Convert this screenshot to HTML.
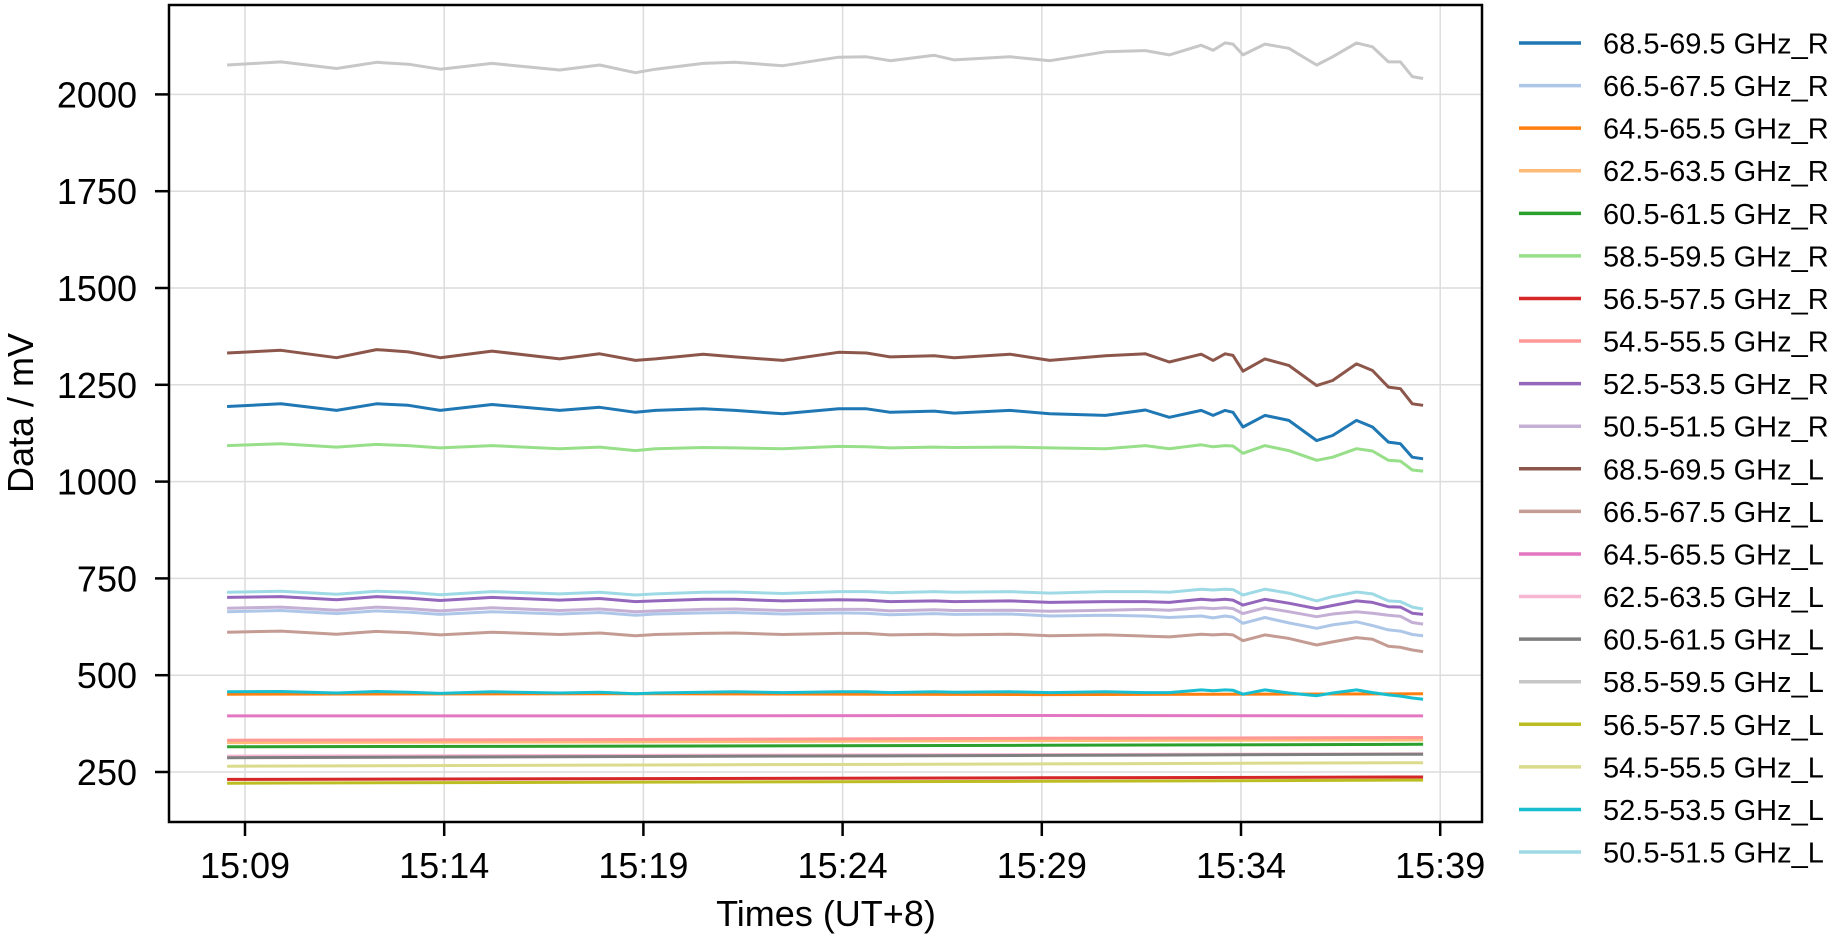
<!DOCTYPE html>
<html><head><meta charset="utf-8"><style>
html,body{margin:0;padding:0;background:#fff;}
svg{display:block;font-family:"Liberation Sans",Arial,sans-serif;}
</style></head><body>
<svg id="chart" width="1847" height="941" viewBox="0 0 1847 941" xmlns="http://www.w3.org/2000/svg">
<g id="grid"></g>
<g id="series"></g>
<rect x="169" y="5" width="1313" height="817" fill="none" stroke="#000" stroke-width="2.5"/>
<g id="axes"></g>
<text x="826" y="926" font-size="36" text-anchor="middle">Times (UT+8)</text>
<text x="0" y="0" font-size="36" text-anchor="middle" transform="translate(33,413) rotate(-90)">Data / mV</text>
<g id="legend"></g>
</svg>
<script>
// minutes after 15:09
const T = [-0.45,0.9,2.3,3.3,4.1,4.9,6.2,7.9,8.9,9.8,10.3,11.5,12.3,13.5,14.9,15.6,16.2,17.3,17.8,19.2,20.2,21.6,22.6,23.2,24.0,24.3,24.6,24.8,25.05,25.6,26.2,26.9,27.3,27.9,28.3,28.7,29.0,29.3,29.57];
const TF = [-0.45,10,20,29.57];
const xTickLabels = ["15:09","15:14","15:19","15:24","15:29","15:34","15:39"];
const xTickValues = [0,5,10,15,20,25,30];
const yTickValues = [250,500,750,1000,1250,1500,1750,2000];

const s685R = [1194,1201,1184,1201,1197,1184,1199,1184,1192,1179,1184,1188,1184,1175,1188,1188,1179,1182,1177,1184,1175,1171,1185,1166,1184,1171,1184,1179,1141,1171,1158,1106,1119,1158,1141,1102,1098,1063,1059];
const s665R = [664,667,659,666,663,657,664,658,662,655,658,661,662,658,661,660,656,659,657,658,653,655,653,649,653,648,653,650,634,649,635,621,630,638,628,617,614,605,602];
const s645R = [451,452,450,452,451];
const s625R = [326,328,331,333];
const s605R = [315,317,319,321.5];
const s585R = [1093,1098,1089,1096,1093,1087,1093,1085,1089,1080,1085,1088,1087,1085,1091,1090,1087,1089,1088,1089,1087,1085,1093,1085,1095,1090,1093,1092,1073,1093,1080,1055,1063,1085,1079,1055,1053,1030,1027];
const s565R = [231,233,235,237];
const s545R = [332,334,337,339];
const s525R = [701,703,695,703,699,693,701,694,698,690,692,696,696,692,695,694,690,692,690,692,688,690,690,688,696,694,696,694,681,696,686,672,680,692,688,677,676,660,657];
const s505R = [673,676,668,676,672,666,674,667,671,664,666,670,671,667,670,670,666,669,667,668,665,668,670,668,674,672,674,672,659,674,664,651,658,664,660,655,652,636,632];
const s685L = [1332,1339,1320,1341,1335,1320,1337,1317,1330,1313,1317,1329,1322,1313,1334,1332,1322,1325,1320,1329,1313,1325,1330,1309,1329,1313,1330,1326,1285,1317,1300,1248,1261,1304,1287,1244,1240,1201,1197];
const s665L = [611,614,606,613,610,604,611,605,609,602,605,608,609,605,608,608,604,606,604,606,602,604,601,599,606,604,606,604,589,604,595,578,586,597,593,575,572,565,561];
const s645L = [395,395,396,395];
const s625L = [291,293,295,297];
const s605L = [287,290,293,296];
const s585L = [2076,2084,2067,2083,2078,2065,2080,2063,2076,2056,2065,2080,2083,2074,2096,2097,2087,2101,2089,2097,2087,2110,2113,2102,2127,2114,2133,2130,2102,2130,2119,2076,2097,2133,2123,2084,2084,2046,2041];
const s565L = [221,224,226,229];
const s545L = [265,268,271,274];
const s525L = [457,458,454,458,456,453,457,454,456,452,454,456,457,455,457,457,455,457,456,457,455,457,455,455,462,460,462,461,451,462,454,447,454,462,455,449,446,441,438];
const s505L = [714,717,709,717,714,708,716,710,714,707,710,714,715,711,716,716,713,716,714,716,712,716,716,714,722,720,722,721,707,722,712,692,703,715,710,692,690,676,671];

const legendLabels = ["68.5-69.5 GHz_R","66.5-67.5 GHz_R","64.5-65.5 GHz_R","62.5-63.5 GHz_R","60.5-61.5 GHz_R","58.5-59.5 GHz_R","56.5-57.5 GHz_R","54.5-55.5 GHz_R","52.5-53.5 GHz_R","50.5-51.5 GHz_R","68.5-69.5 GHz_L","66.5-67.5 GHz_L","64.5-65.5 GHz_L","62.5-63.5 GHz_L","60.5-61.5 GHz_L","58.5-59.5 GHz_L","56.5-57.5 GHz_L","54.5-55.5 GHz_L","52.5-53.5 GHz_L","50.5-51.5 GHz_L"];
const colors = ["#1f77b4","#aec7e8","#ff7f0e","#ffbb78","#2ca02c","#98df8a","#d62728","#ff9896","#9467bd","#c5b0d5","#8c564b","#c49c94","#e377c2","#f7b6d2","#7f7f7f","#c7c7c7","#bcbd22","#dbdb8d","#17becf","#9edae5"];
const seriesData = [s685R,s665R,s645R,s625R,s605R,s585R,s565R,s545R,s525R,s505R,s685L,s665L,s645L,s625L,s605L,s585L,s565L,s545L,s525L,s505L];

const NS = "http://www.w3.org/2000/svg";
const X0 = 245, PXMIN = 39.84;
function xs(t){ return X0 + t * PXMIN; }
function ys(v){ return 772 - (v - 250) * 0.3872; }
function mk(tag, attrs, parent){ const e = document.createElementNS(NS, tag); for (const k in attrs) e.setAttribute(k, attrs[k]); parent.appendChild(e); return e; }

const grid = document.getElementById('grid');
const axes = document.getElementById('axes');
xTickValues.forEach((t, i) => {
  const gl = mk('line', {x1: xs(t), x2: xs(t), y1: 5, y2: 822, stroke: '#dcdcdc', 'stroke-width': 1.5}, grid);
  
  
  const tk = mk('line', {x1: xs(t), x2: xs(t), y1: 822, y2: 836, stroke: '#000', 'stroke-width': 2.5}, axes);
  
  
  const tx = mk('text', {x: xs(t), y: 878, 'font-size': 36, 'text-anchor': 'middle'}, axes);
  tx.textContent = xTickLabels[i];
  
  
});
yTickValues.forEach(v => {
  const gl = mk('line', {x1: 169, x2: 1482, y1: ys(v), y2: ys(v), stroke: '#dcdcdc', 'stroke-width': 1.5}, grid);
  
  
  const tk = mk('line', {x1: 155, x2: 169, y1: ys(v), y2: ys(v), stroke: '#000', 'stroke-width': 2.5}, axes);
  
  
  const tx = mk('text', {x: 137, y: ys(v) + 13, 'font-size': 36, 'text-anchor': 'end'}, axes);
  tx.textContent = String(v);
  
  
});

const sg = document.getElementById('series');
seriesData.forEach((vals, i) => {
  const times = vals.length === T.length ? T : TF;
  const pts = vals.map((v, j) => xs(times[j]).toFixed(1) + ',' + ys(v).toFixed(1)).join(' ');
  const pl = mk('polyline', {points: pts, fill: 'none', stroke: colors[i], 'stroke-width': 3, 'stroke-linejoin': 'round'}, sg);
  
  
});

const lg = document.getElementById('legend');
legendLabels.forEach((lab, i) => {
  const y = 43 + i * 42.58;
  const g = mk('g', {}, lg);
  
  
  const ln = mk('line', {x1: 1519, x2: 1581, y1: y, y2: y, stroke: colors[i], 'stroke-width': 3.5}, g);
  
  
  const tx = mk('text', {x: 1603, y: y + 10.5, 'font-size': 29}, g);
  tx.textContent = lab;
  
  
});
</script>
</body></html>
